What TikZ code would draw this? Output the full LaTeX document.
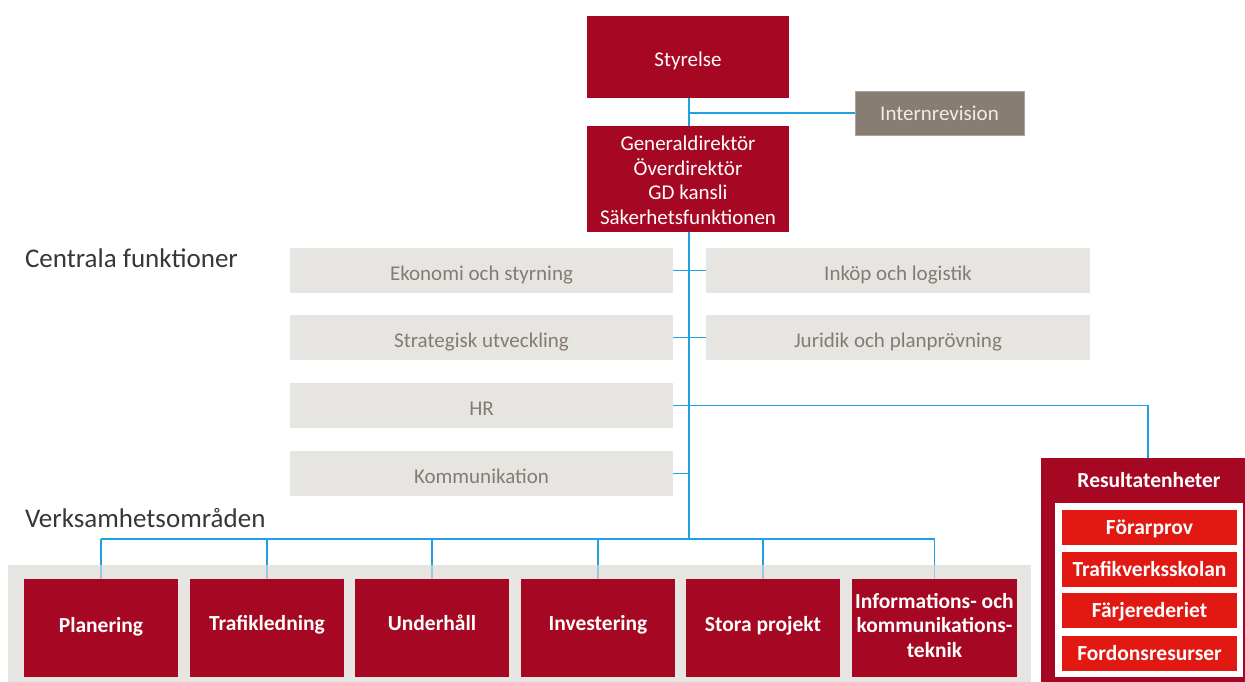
\documentclass[tikz,border=0pt]{standalone}
\usepackage{fontspec}
\setmainfont{Carlito}
\definecolor{tvred}{RGB}{166,7,34}
\definecolor{brightred}{RGB}{226,25,18}
\definecolor{lgray}{RGB}{231,229,225}
\definecolor{tgray}{RGB}{133,123,114}
\definecolor{igray}{RGB}{135,125,115}
\definecolor{lineblue}{RGB}{30,160,225}
\definecolor{headgray}{RGB}{55,55,55}
\pgfdeclarelayer{background}
\pgfsetlayers{background,main}
\begin{document}
\begin{tikzpicture}[x=1pt,y=-1pt,
  every node/.style={inner sep=0pt, outer sep=0pt},
  redbox/.style={rectangle, fill=tvred, text=white, align=center,
    font=\fontsize{21}{24.5}\selectfont, text height=19.5pt, text depth=0pt},
  areabox/.style={rectangle, fill=tvred, text=white, align=center,
    minimum width=154, minimum height=98,
    font=\fontsize{21.5}{24.5}\selectfont\bfseries,
    text height=14pt, text depth=10pt},
  funcbox/.style={rectangle, fill=lgray, text=tgray,
    minimum width=383, minimum height=45,
    font=\fontsize{21}{24.5}\selectfont, text height=19.5pt, text depth=0pt},
  unitbox/.style={rectangle, fill=brightred, text=white,
    minimum width=175, minimum height=35,
    font=\fontsize{21.5}{24.5}\selectfont\bfseries,
    text height=16pt, text depth=2pt},
  heading/.style={anchor=base west, text=headgray,
    font=\fontsize{27}{30}\selectfont},
  conn/.style={draw=lineblue, line width=1.4pt},
  paleconn/.style={draw=lineblue!40!lgray, line width=1.4pt}]
\useasboundingbox (0,0) rectangle (1245,681);

% bottom band
\coordinate (bandTop) at (0,565);
\fill[lgray] (8,565) rectangle (1031,690);

% top
\node[redbox, minimum width=202, minimum height=82] (sty) at (688,57) {Styrelse};
\node[rectangle, fill=igray, draw=igray!70!white, line width=0.8pt,
  text={rgb,255:red,240;green,237;blue,232},
  minimum width=169, minimum height=44,
  font=\fontsize{21}{24.5}\selectfont, text height=17pt, text depth=1.5pt] (intr) at (939.5,113) {Internrevision};
\node[redbox, minimum width=202, minimum height=106, text height=90pt, text depth=0pt] (gd) at (688,179)
  {Generaldirektör\\Överdirektör\\GD kansli\\Säkerhetsfunktionen};

% headings
\node[heading] (hcf) at (25,267) {Centrala funktioner};
\node[heading] (hva) at (25,527) {Verksamhetsområden};

% central functions
\node[funcbox] (eko) at (481.5,270.5) {Ekonomi och styrning};
\node[funcbox] (str) at (481.5,337.5) {Strategisk utveckling};
\node[funcbox] (hr)  at (481.5,405.5) {HR};
\node[funcbox] (kom) at (481.5,473.5) {Kommunikation};
\node[funcbox, minimum width=384] (ink) at (898,270.5) {Inköp och logistik};
\node[funcbox, minimum width=384] (jur) at (898,337.5) {Juridik och planprövning};

% business areas
\node[areabox, text height=17pt, text depth=9pt] (pla) at (101,628) {Planering};
\node[areabox] (tra) at (267,628) {Trafikledning};
\node[areabox] (und) at (432,628) {Underhåll};
\node[areabox] (inv) at (598,628) {Investering};
\node[areabox, text height=15pt, text depth=9pt] (sto) at (763,628) {Stora projekt};
\node[areabox, minimum width=165, text height=58pt, text depth=0pt] (ikt) at (934.5,628)
  {Informations- och\\kommunikations-\\teknik};

% result units
\node[rectangle, fill=tvred, minimum width=214, minimum height=232] (res) at (1148,574) {};
\node[anchor=base, text=white, font=\fontsize{21.5}{24.5}\selectfont\bfseries] (rest) at (1149,487) {Resultatenheter};
\node[rectangle, fill=white, minimum width=188, minimum height=174] (resf) at (1149,590) {};
\node[unitbox] (u1) at (1149.5,527.5) {Förarprov};
\node[unitbox] (u2) at (1149.5,569) {Trafikverksskolan};
\node[unitbox] (u3) at (1149.5,610.5) {Färjerederiet};
\node[unitbox] (u4) at (1149.5,653.5) {Fordonsresurser};

% connectors
\coordinate (trunkTop) at (689,98);
\coordinate (jIntr) at (689,113);
\coordinate (jKom) at (689,473.5);
\coordinate (bus) at (689,539);
\coordinate (busL) at (101,539);
\coordinate (busR) at (934.5,539);
\coordinate (hrR) at (1148,405.5);

\begin{pgfonlayer}{background}
\fill[white] (0,0) rectangle (1245,681);
\draw[conn] (trunkTop) -- (bus);
\draw[conn] (jIntr) -- (intr.west);
\draw[conn] (eko.east) -- (ink.west);
\draw[conn] (str.east) -- (jur.west);
\draw[conn] (hr.east) -- (hrR) -- (res.north);
\draw[conn] (kom.east) -- (jKom);
\draw[conn] (busL) -- (busR);
\draw[conn] (busL) -- (pla.north);
\draw[conn] (tra.north |- bus) -- (tra.north);
\draw[conn] (und.north |- bus) -- (und.north);
\draw[conn] (inv.north |- bus) -- (inv.north);
\draw[conn] (sto.north |- bus) -- (sto.north);
\draw[conn] (busR) -- (ikt.north);
\end{pgfonlayer}
% drops where they cross the grey band
\foreach \n in {pla,tra,und,inv,sto,ikt}
  \draw[paleconn] (\n.north |- bandTop) -- (\n.north);
\end{tikzpicture}
\end{document}
